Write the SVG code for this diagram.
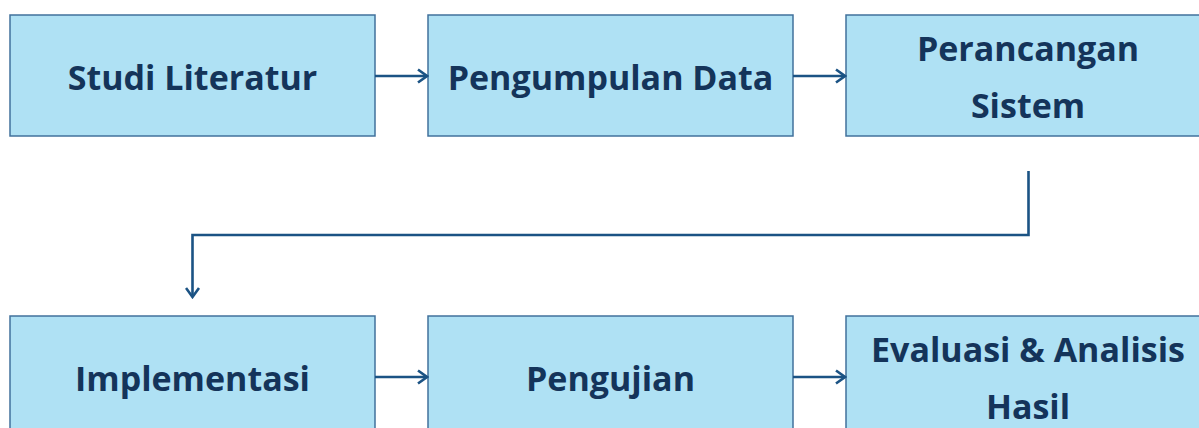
<svg xmlns="http://www.w3.org/2000/svg" width="1199" height="428" viewBox="0 0 1199 428">
<style>
.box{fill:#AFE1F4;stroke:#41719C;stroke-width:1.5}
.t{font-family:"Open Sans",Lato,sans-serif;font-weight:bold;font-size:34px;fill:#14345A;text-anchor:middle;dominant-baseline:central}
.c{fill:none;stroke:#1B5384;stroke-width:2.6}
</style>
<defs>
<marker id="ah" markerWidth="14" markerHeight="16" refX="12" refY="8" orient="auto" markerUnits="userSpaceOnUse">
<path d="M3,1.5 L12,8 L3,14.5" fill="none" stroke="#1B5384" stroke-width="2.6"/>
</marker>
</defs>
<rect width="1199" height="428" fill="#FFFFFF"/>
<g id="n1"><rect class="box" x="10" y="15" width="365" height="121"/><text class="t" x="192.5" y="77">Studi Literatur</text></g>
<g id="n2"><rect class="box" x="428" y="15" width="365" height="121"/><text class="t" x="610.5" y="77">Pengumpulan Data</text></g>
<g id="n3"><rect class="box" x="846" y="15" width="365" height="121"/><text class="t" x="1028" y="48">Perancangan</text><text class="t" x="1028" y="105">Sistem</text></g>
<g id="n4"><rect class="box" x="10" y="316" width="365" height="121"/><text class="t" x="192.5" y="378">Implementasi</text></g>
<g id="n5"><rect class="box" x="428" y="316" width="365" height="121"/><text class="t" x="610.5" y="378">Pengujian</text></g>
<g id="n6"><rect class="box" x="846" y="316" width="365" height="121"/><text class="t" x="1028" y="349">Evaluasi &amp; Analisis</text><text class="t" x="1028" y="406">Hasil</text></g>
<g id="connectors">
<line class="c" x1="375" y1="76" x2="427" y2="76" marker-end="url(#ah)"/>
<line class="c" x1="793" y1="76" x2="845" y2="76" marker-end="url(#ah)"/>
<polyline class="c" points="1028.5,171 1028.5,235 192.5,235 192.5,297" marker-end="url(#ah)"/>
<line class="c" x1="375" y1="377" x2="427" y2="377" marker-end="url(#ah)"/>
<line class="c" x1="793" y1="377" x2="845" y2="377" marker-end="url(#ah)"/>
</g>
</svg>
